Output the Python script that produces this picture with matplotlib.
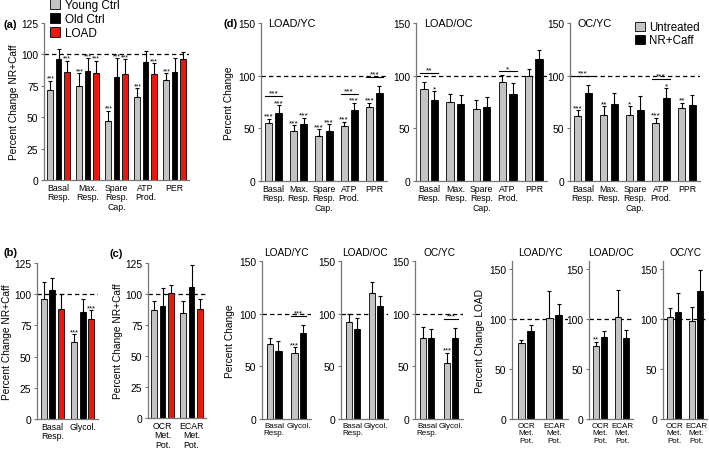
import numpy as np
import matplotlib
matplotlib.use('Agg')
import matplotlib.pyplot as plt
from matplotlib.patches import Patch

plt.rcParams['font.family'] = ['Liberation Sans', 'DejaVu Sans']

# ---- data ----
# (a)
a_cats = ['Basal\nResp.', 'Max.\nResp.', 'Spare\nResp.\nCap.', 'ATP\nProd.', 'PER']
a_young = [72, 75, 47, 66, 80]
a_young_err = [7, 10, 8, 7, 5]
a_old = [96, 87, 82, 94, 86]
a_old_err = [8, 10, 15, 9, 11]
a_load = [86, 85, 84, 84, 96]
a_load_err = [9, 10, 12, 9, 6]
a_young_sig = ['***', '***', '***', '***', '***']
a_old_sig = ['', '***', '***', '', '']
a_load_sig = ['***', '***', '***', '***', '']

# (b)
b_cats = ['Basal\nResp.', 'Glycol.']
b_young = [96, 62]
b_young_err = [14, 6]
b_old = [103, 86]
b_old_err = [10, 10]
b_load = [88, 80]
b_load_err = [12, 7]
b_young_sig = ['', '***']
b_old_sig = ['', '']
b_load_sig = ['', '***']

# (c)
c_cats = ['OCR\nMet.\nPot.', 'ECAR\nMet.\nPot.']
c_young = [87, 85]
c_young_err = [7, 9]
c_old = [90, 106]
c_old_err = [15, 17]
c_load = [101, 88]
c_load_err = [6, 8]

# (d) top row
d_cats = ['Basal\nResp.', 'Max.\nResp.', 'Spare\nResp.\nCap.', 'ATP\nProd.', 'PPR']
d_titles = ['LOAD/YC', 'LOAD/OC', 'OC/YC']
d_untr = [[55, 47, 43, 52, 70], [87, 75, 68, 94, 100], [62, 63, 63, 55, 69]]
d_untr_err = [[4, 6, 6, 4, 4], [7, 8, 9, 7, 6], [5, 8, 8, 5, 5]]
d_nr = [[65, 54, 47, 67, 84], [77, 73, 70, 83, 116], [84, 73, 67, 79, 72]]
d_nr_err = [[7, 6, 7, 7, 6], [8, 9, 10, 10, 8], [7, 11, 14, 9, 10]]
d_untr_sig = [['***'] * 5, [''] * 5, ['***', '**', '*', '***', '**']]
d_nr_sig = [['***', '***', '***', '***', ''], ['*', '', '', '', ''], ['', '', '', '*', '']]
d_brk = [{0: '***', 3: '***', 4: '***'}, {0: '**', 3: '*'}, {0: '***', 3: '***'}]

# (d) bottom middle: basal resp / glycolysis
g_cats = ['Basal\nResp.', 'Glycol.']
g_untr = [[71, 63], [92, 120], [77, 53]]
g_untr_err = [[6, 5], [8, 10], [10, 10]]
g_nr = [[65, 82], [85, 107], [77, 77]]
g_nr_err = [[9, 7], [11, 10], [8, 9]]
g_untr_sig = [['', '***'], ['', ''], ['', '***']]
g_brk = [{1: '***'}, {}, {1: '***'}]

# (d) bottom right: metabolic potential
m_cats = ['OCR\nMet.\nPot.', 'ECAR\nMet.\nPot.']
m_untr = [[76, 101], [73, 102], [102, 98]]
m_untr_err = [[3, 27], [4, 27], [9, 14]]
m_nr = [[88, 104], [82, 81], [107, 128]]
m_nr_err = [[6, 11], [6, 8], [19, 21]]
m_untr_sig = [['', ''], ['**', ''], ['', '']]

GRAY = '#c4c4c4'
RED = '#e8190c'
W, H = 709, 456

fig = plt.figure(figsize=(W / 100, H / 100), dpi=100)


def add_ax(x0, x1, ytop, ybot):
    return fig.add_axes([x0 / W, 1 - ybot / H, (x1 - x0) / W, (ybot - ytop) / H])


def style(ax, cats, ylim, yticks, fs=6.3):
    for s in ['top', 'right']:
        ax.spines[s].set_visible(False)
    for s in ['left', 'bottom']:
        ax.spines[s].set_color('#777777')
        ax.spines[s].set_linewidth(0.9)
    ax.set_ylim(*ylim)
    ax.set_yticks(yticks)
    ax.set_xlim(-0.5, len(cats) - 0.5)
    ax.set_xticks(np.arange(len(cats)))
    ax.set_xticklabels(cats, fontsize=fs, linespacing=1.1)
    ax.tick_params(axis='x', length=0, pad=2)
    ax.tick_params(axis='y', labelsize=7.4, length=2.5, width=0.8, color='#777777', pad=1.5)
    ax.axhline(100, ls=(0, (3.5, 2.5)), color='black', lw=0.9, zorder=0)


def star(ax, x, y, s, sfs):
    ax.annotate(s, (x, y), xytext=(0, -0.6), textcoords='offset points',
                ha='center', va='bottom', fontsize=sfs, zorder=4)


def draw_group(ax, series, errs, colors, width, step, sigs=None, brk=None, sfs=6):
    n = len(series)
    x = np.arange(len(series[0]))
    tops = []
    for i in range(n):
        pos = x + (i - (n - 1) / 2) * step
        vals = np.array(series[i])
        err = np.array(errs[i])
        ax.bar(pos, vals, width, color=colors[i], edgecolor='black', linewidth=0.6, zorder=2)
        ax.errorbar(pos, vals, yerr=[np.zeros(len(vals)), err], fmt='none', ecolor='black',
                    elinewidth=0.8, capsize=1.6, capthick=0.8, zorder=3)
        tops.append(vals + err)
        if sigs is not None and sigs[i] is not None:
            for p, t, s in zip(pos, vals + err, sigs[i]):
                if s:
                    star(ax, p, t, s, sfs)
    if brk:
        for k, s in brk.items():
            p0 = x[k] - (n - 1) / 2 * step
            p1 = x[k] + (n - 1) / 2 * step
            has = sigs is not None and any(sg is not None and sg[k] for sg in sigs)
            y = max(t[k] for t in tops) + (9 if has else 3)
            ax.plot([p0 - width / 2, p1 + width / 2], [y, y], color='black', lw=0.8, zorder=3)
            star(ax, (p0 + p1) / 2, y, s, sfs)


# ---- (a) ----
ax = add_ax(44, 189, 24, 181)
style(ax, a_cats, (0, 125), [0, 25, 50, 75, 100, 125])
draw_group(ax, [a_young, a_old, a_load], [a_young_err, a_old_err, a_load_err],
           [GRAY, 'black', RED], 0.2, 0.28, [a_young_sig, a_old_sig, a_load_sig], sfs=4.9)
ax.set_ylabel('Percent Change NR+Caff', fontsize=7.3, labelpad=2)
fig.text(3 / W, 1 - 25 / H, '(a)', fontsize=8, fontweight='bold', va='center')
handles = [Patch(facecolor=c, edgecolor='black', linewidth=0.6) for c in [GRAY, 'black', RED]]
fig.legend(handles, ['Young Ctrl', 'Old Ctrl', 'LOAD'], loc='upper left',
           bbox_to_anchor=(45 / W, 1.01), frameon=False, fontsize=8.5,
           handlelength=0.9, handleheight=0.9, handletextpad=0.4, labelspacing=0.15,
           borderaxespad=0)

# ---- (b) ----
ax = add_ax(37, 98, 264, 420)
style(ax, b_cats, (0, 125), [0, 25, 50, 75, 100, 125])
draw_group(ax, [b_young, b_old, b_load], [b_young_err, b_old_err, b_load_err],
           [GRAY, 'black', RED], 0.2, 0.28, [b_young_sig, b_old_sig, b_load_sig], sfs=5.5)
ax.set_ylabel('Percent Change NR+Caff', fontsize=7.3, labelpad=2)
fig.text(3 / W, 1 - 253 / H, '(b)', fontsize=8, fontweight='bold', va='center')

# ---- (c) ----
ax = add_ax(148, 206, 264, 419)
style(ax, c_cats, (0, 125), [0, 25, 50, 75, 100, 125])
draw_group(ax, [c_young, c_old, c_load], [c_young_err, c_old_err, c_load_err],
           [GRAY, 'black', RED], 0.2, 0.28)
ax.set_ylabel('Percent Change NR+Caff', fontsize=7.3, labelpad=2)
fig.text(109 / W, 1 - 254 / H, '(c)', fontsize=8, fontweight='bold', va='center')

# ---- (d) top ----
for i, (x0, x1) in enumerate([(261, 387), (416, 547), (570, 700)]):
    ax = add_ax(x0, x1, 24, 182)
    style(ax, d_cats, (0, 150), [0, 50, 100, 150])
    draw_group(ax, [d_untr[i], d_nr[i]], [d_untr_err[i], d_nr_err[i]], [GRAY, 'black'],
               0.28, 0.4, [d_untr_sig[i], d_nr_sig[i]], d_brk[i])
    ax.text(0.06, 1.0, d_titles[i], transform=ax.transAxes, fontsize=7.8, va='center')
    if i == 0:
        ax.set_ylabel('Percent Change', fontsize=7.3, labelpad=3)
    if i == 2:
        hd = [Patch(facecolor=c, edgecolor='black', linewidth=0.6) for c in [GRAY, 'black']]
        ax.legend(hd, ['Untreated', 'NR+Caff'], loc='upper right', bbox_to_anchor=(1.03, 1.04),
                  frameon=False, fontsize=8.3, handlelength=0.9, handleheight=0.9,
                  handletextpad=0.3, labelspacing=0.1, borderaxespad=0)
fig.text(224 / W, 1 - 24 / H, '(d)', fontsize=8, fontweight='bold', va='center')

# ---- (d) bottom middle ----
for i, (x0, x1) in enumerate([(262, 311), (341, 388), (415, 463)]):
    ax = add_ax(x0, x1, 262, 420)
    style(ax, g_cats, (0, 150), [0, 50, 100, 150], fs=5.8)
    draw_group(ax, [g_untr[i], g_nr[i]], [g_untr_err[i], g_nr_err[i]], [GRAY, 'black'],
               0.26, 0.34, [g_untr_sig[i], None], g_brk[i], sfs=5.5)
    ax.set_title(d_titles[i], fontsize=7.3, pad=4)
    if i == 0:
        ax.set_ylabel('Percent Change', fontsize=7.3, labelpad=3)

# ---- (d) bottom right ----
for i, (x0, x1) in enumerate([(512, 568), (589, 633), (663, 707)]):
    ax = add_ax(x0, x1, 262, 420)
    style(ax, m_cats, (0, 158), [0, 50, 100, 150], fs=5.8)
    draw_group(ax, [m_untr[i], m_nr[i]], [m_untr_err[i], m_nr_err[i]], [GRAY, 'black'],
               0.26, 0.34, [m_untr_sig[i], None], sfs=5.5)
    ax.set_title(d_titles[i], fontsize=7.3, pad=4)
    if i == 0:
        ax.set_ylabel('Percent Change LOAD', fontsize=7.3, labelpad=3)

fig.savefig('out.png', dpi=100)
